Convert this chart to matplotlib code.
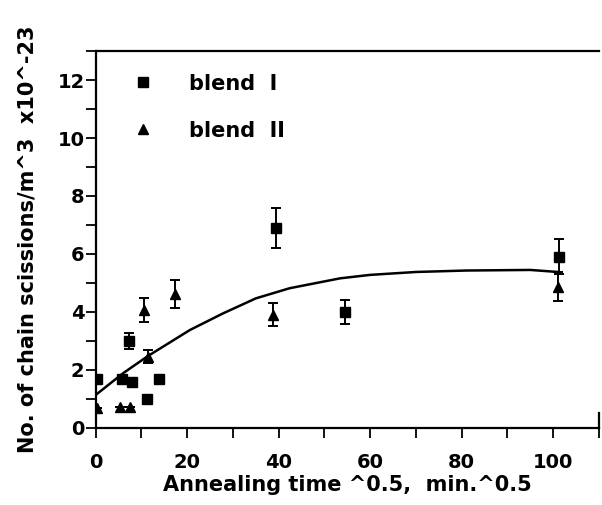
import matplotlib
matplotlib.use('Agg')
import matplotlib.pyplot as plt
from matplotlib.ticker import MultipleLocator

plt.rcParams['font.family'] = ['DejaVu Sans']
plt.rcParams['font.weight'] = 'bold'
plt.rcParams['axes.labelweight'] = 'bold'

# blend I (squares)
x_blend1 = [0.3, 5.8, 7.3, 8.0, 11.2, 13.8, 39.4, 54.4, 101.2]
y_blend1 = [1.7, 1.7, 3.0, 1.6, 1.0, 1.7, 6.9, 4.0, 5.9]
err_blend1 = [0.0, 0.0, 0.28, 0.0, 0.0, 0.0, 0.7, 0.43, 0.6]

# blend II (triangles)
x_blend2 = [0.3, 5.4, 7.4, 10.6, 11.4, 17.4, 38.8, 101.1]
y_blend2 = [0.7, 0.73, 0.73, 4.07, 2.46, 4.62, 3.9, 4.87]
err_blend2 = [0.0, 0.0, 0.0, 0.42, 0.23, 0.48, 0.4, 0.5]

# fitted curve
x_fit = [0, 6, 11.4, 20.6, 27.8, 35, 42.4, 53.4, 60, 70, 81, 95, 101]
y_fit = [1.14, 1.89, 2.48, 3.38, 3.95, 4.47, 4.82, 5.16, 5.28, 5.38, 5.43, 5.45, 5.38]

fig = plt.figure(figsize=(6.02, 5.05), dpi=100)
ax = fig.add_axes([0.159, 0.1525, 0.836, 0.7465])

ax.plot(x_fit, y_fit, color='black', linewidth=1.8)
eb1 = ax.errorbar(x_blend1, y_blend1, yerr=err_blend1, fmt='s', color='black',
                  markersize=7, capsize=3.5, elinewidth=1.4, capthick=1.4)
eb2 = ax.errorbar(x_blend2, y_blend2, yerr=err_blend2, fmt='^', color='black',
                  markersize=7, capsize=3.5, elinewidth=1.4, capthick=1.4)

ax.set_xlim(0, 110)
ax.set_ylim(0, 13)
ax.xaxis.set_major_locator(MultipleLocator(20))
ax.xaxis.set_minor_locator(MultipleLocator(10))
ax.yaxis.set_major_locator(MultipleLocator(2))
ax.yaxis.set_minor_locator(MultipleLocator(1))

for side in ['left', 'bottom', 'top', 'right']:
    ax.spines[side].set_linewidth(1.6)
ax.spines['right'].set_bounds(0, 0.5)

ax.tick_params(axis='both', which='both', direction='out', length=7, width=1.3)
ax.tick_params(axis='x', which='both', top=False, pad=11, labelsize=14)
ax.tick_params(axis='y', which='both', right=False, pad=1, labelsize=14)

ax.set_xlabel('Annealing time ^0.5,  min.^0.5', fontsize=15, labelpad=2)
ax.set_ylabel('No. of chain scissions/m^3  x10^-23', fontsize=15, labelpad=14)

ax.legend([eb1.lines[0], eb2.lines[0]], ['blend  I', 'blend  II'],
          loc='upper left', bbox_to_anchor=(0.073, 0.94), frameon=False,
          fontsize=15, handlelength=1.0, handletextpad=1.7,
          labelspacing=1.3, borderaxespad=0, borderpad=0)

fig.savefig('out.png', dpi=100)
